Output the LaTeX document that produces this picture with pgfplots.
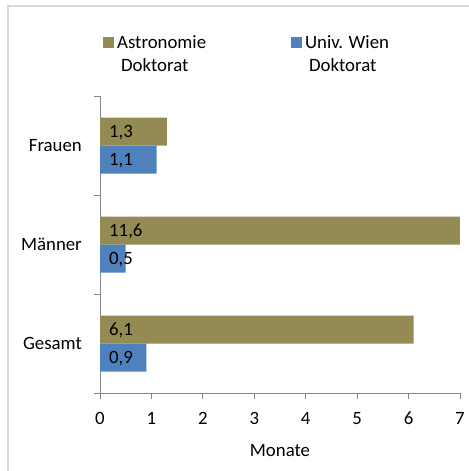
\documentclass[border=0pt]{standalone}
\usepackage{fontspec}
\setmainfont{Carlito}
\usepackage{pgfplots}
\usepackage{pgfplotstable}
\pgfplotsset{compat=1.18}

\definecolor{astro}{HTML}{948A54}
\definecolor{uni}{HTML}{4F81BD}
\definecolor{axisgray}{HTML}{868686}
\definecolor{framegray}{HTML}{D9D9D9}

% y: 0 = Gesamt, 1 = Maenner, 2 = Frauen
\pgfplotstableread{
y astro uni
0 6.1 0.9
1 11.6 0.5
2 1.3 1.1
}\datatable

\begin{document}
\begin{tikzpicture}[font=\fontsize{18.8bp}{23bp}\selectfont]
\clip (0bp,0bp) rectangle (469bp,-471bp);
\draw[framegray, line width=1.2bp] (8bp,-6bp) rectangle (520bp,-520bp);
\begin{axis}[
    at={(100bp,-393bp)}, anchor=south west,
    scale only axis,
    width=360bp, height=297bp,
    xmin=0, xmax=7, ymin=-0.5, ymax=2.5,
    axis lines=left,
    axis line style={-, draw=axisgray, line width=0.9bp},
    tick align=outside,
    major tick length=6bp,
    tick style={draw=axisgray, line width=0.9bp},
    xtick={0,1,...,7},
    ytick={-0.5,0.5,1.5,2.5},
    yticklabels={},
    extra y ticks={0,1,2},
    extra y tick labels={Gesamt,Männer,Frauen},
    extra y tick style={major tick length=0pt},
    /pgf/number format/assume math mode=true,
    xticklabel style={inner sep=0pt, anchor=north, yshift=-13bp},
    yticklabel style={inner sep=0pt, anchor=east, xshift=-18bp},
    xlabel={Monate},
    xlabel style={at={(axis description cs:0.5,0)}, anchor=north, inner sep=0pt, yshift=-51bp},
    legend columns=2,
    legend style={draw=none, fill=none, inner sep=0pt,
        at={(axis description cs:0.0083,1.2054)}, anchor=north west,
        nodes={inner sep=0pt, text depth=0pt},
        cells={anchor=north west, align=left},
        /tikz/every odd column/.append style={column sep=3bp},
        /tikz/every even column/.append style={column sep=85bp}},
    legend image code/.code={\fill[#1] (0bp,-2bp) rectangle (11bp,-13bp);},
]
\addplot[xbar, bar width=28bp, bar shift=14bp, fill=astro, draw=none]
    table[x=astro, y=y]{\datatable};
\addlegendentry{Astronomie\\\hspace*{4bp}Doktorat}
\addplot[xbar, bar width=28bp, bar shift=-14bp, fill=uni, draw=none]
    table[x=uni, y=y]{\datatable};
\addlegendentry{Univ. Wien\\\hspace*{4bp}Doktorat}
% value labels at the left end of each bar
\addplot[xbar, bar width=28bp, bar shift=14bp, draw=none, fill=none, forget plot,
    point meta=explicit,
    nodes near coords={\pgfmathprintnumber[fixed,fixed zerofill,precision=1,use comma]{\pgfplotspointmeta}},
    every node near coord/.append style={anchor=base west, inner sep=0pt, xshift=9bp, yshift=8bp, text=black}]
    table[x expr=0, y=y, meta=astro]{\datatable};
\addplot[xbar, bar width=28bp, bar shift=-14bp, draw=none, fill=none, forget plot,
    point meta=explicit,
    nodes near coords={\pgfmathprintnumber[fixed,fixed zerofill,precision=1,use comma]{\pgfplotspointmeta}},
    every node near coord/.append style={anchor=base west, inner sep=0pt, xshift=9bp, yshift=-20bp, text=black}]
    table[x expr=0, y=y, meta=uni]{\datatable};
\end{axis}
\end{tikzpicture}
\end{document}
